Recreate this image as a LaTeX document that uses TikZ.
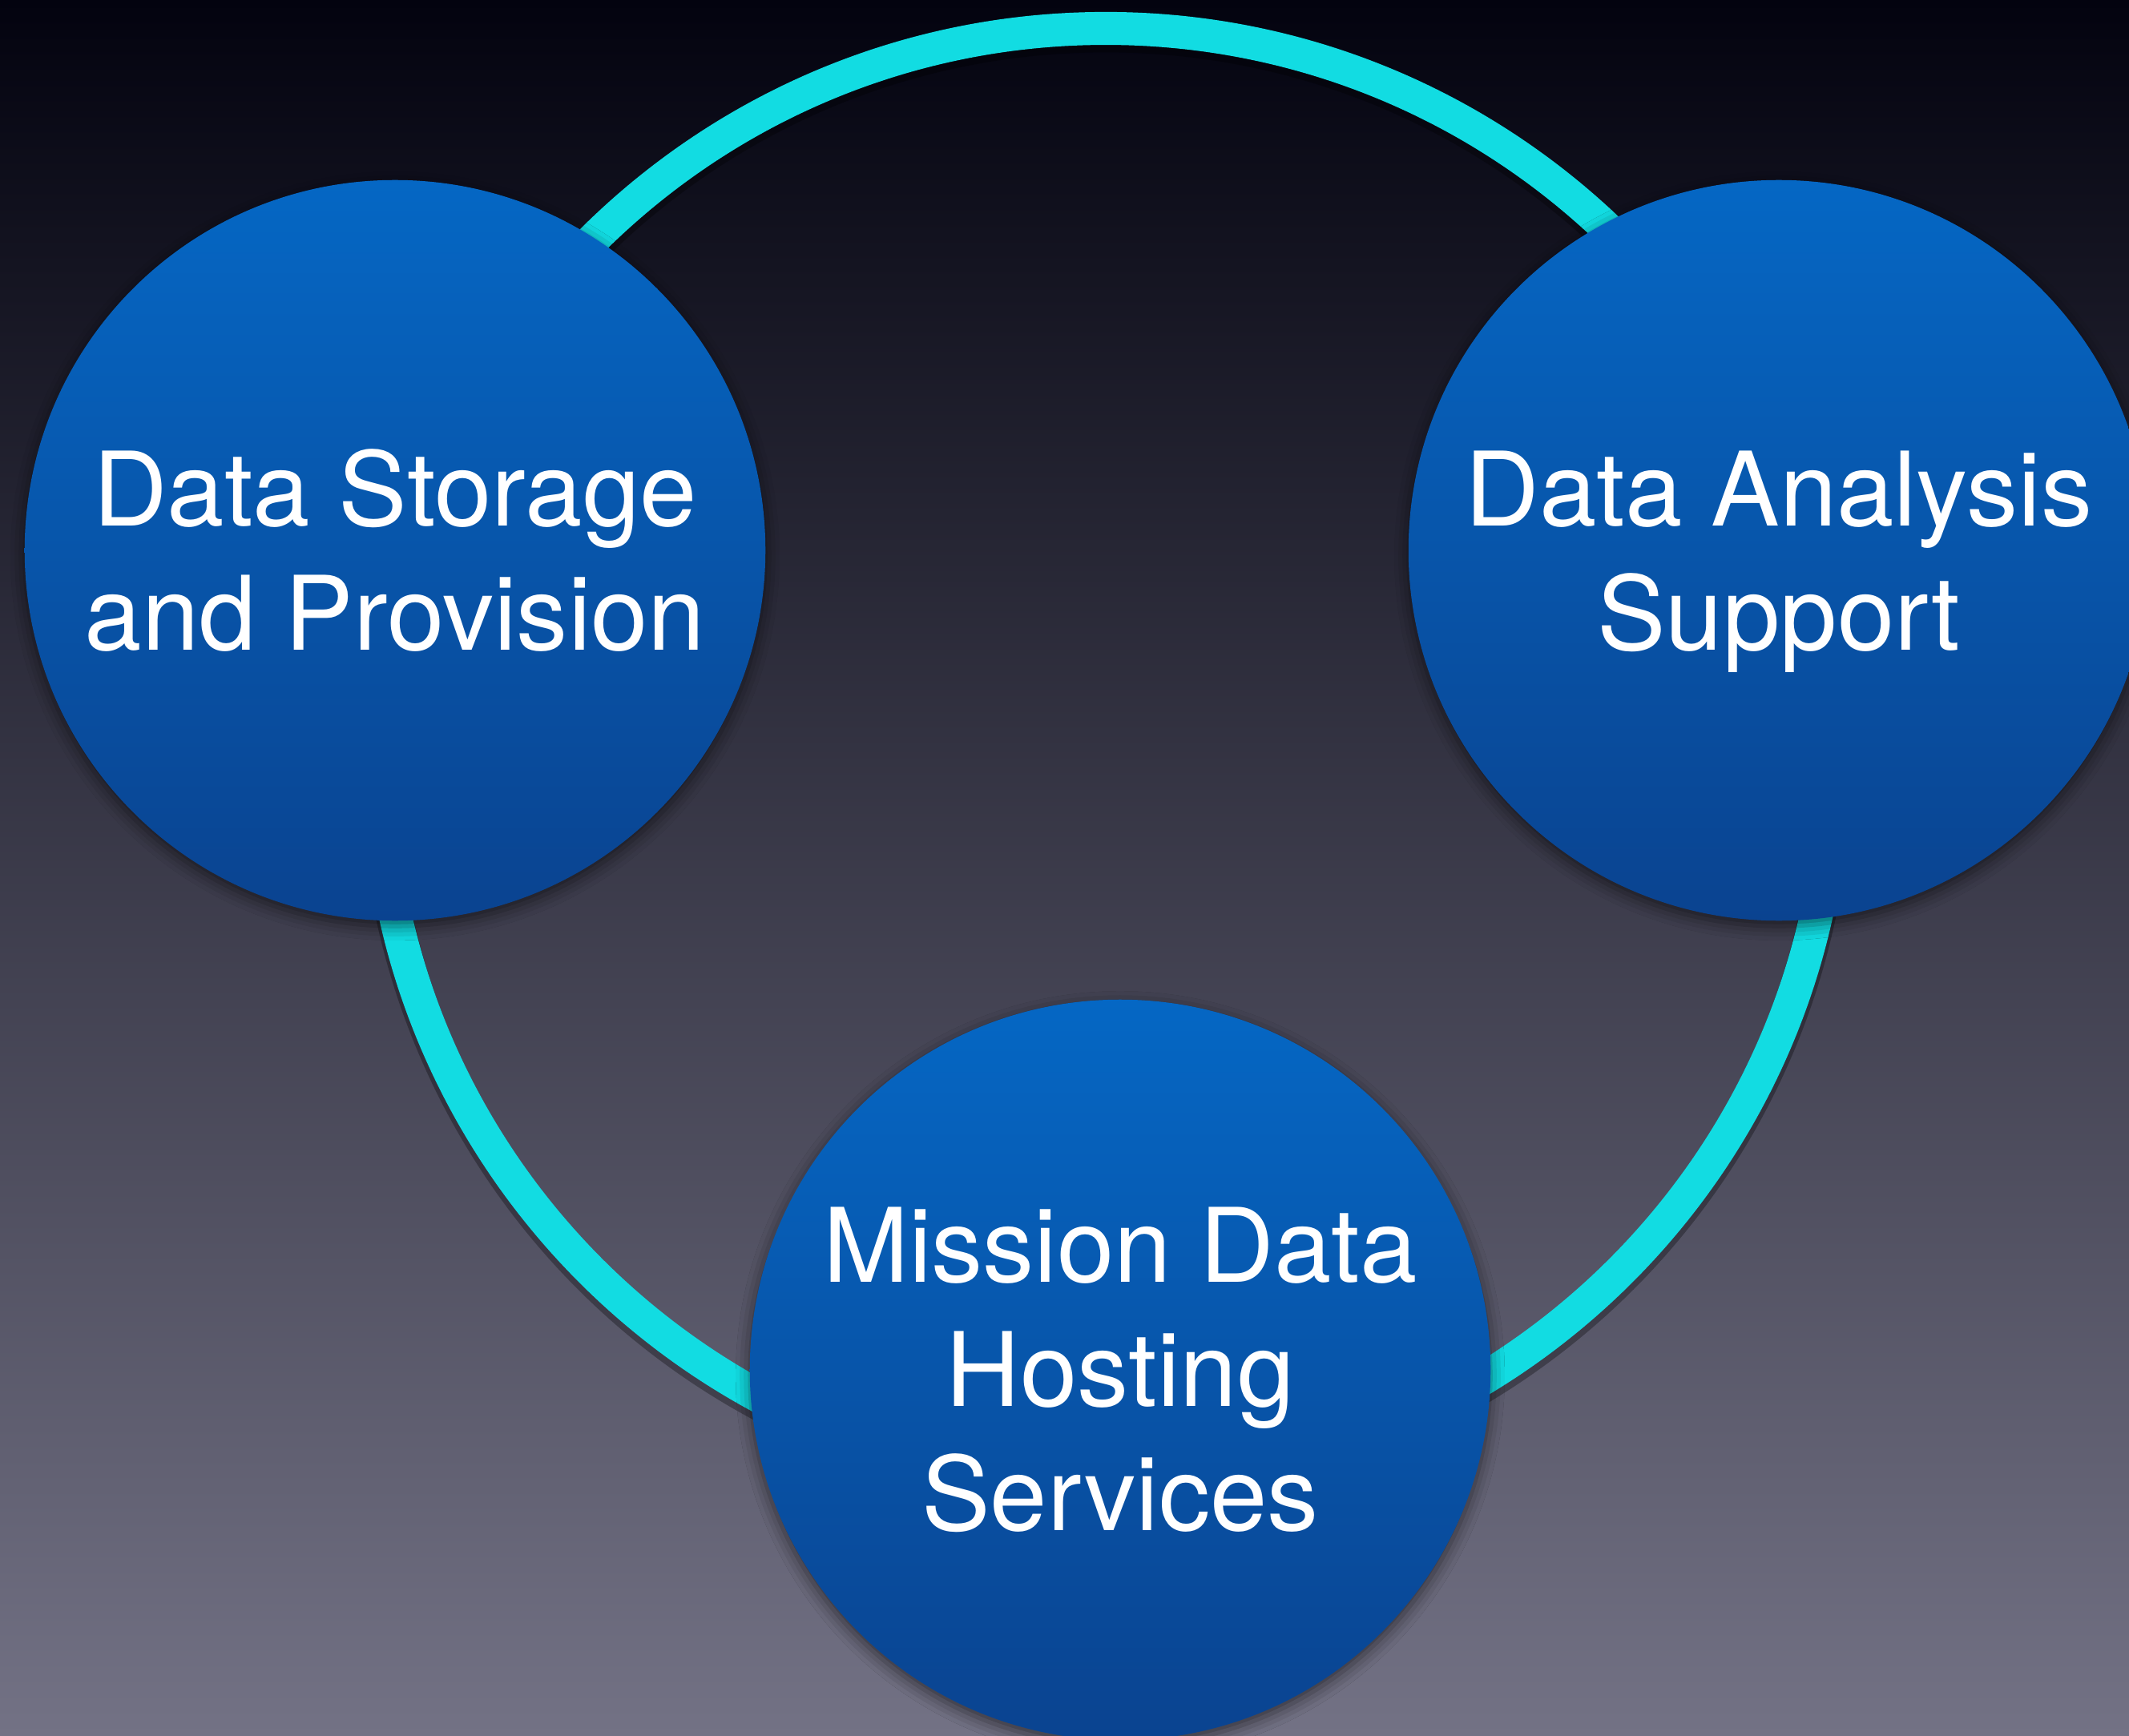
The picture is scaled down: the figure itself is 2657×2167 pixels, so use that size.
\documentclass[tikz,border=0pt]{standalone}
\usepackage{fontspec}
\setmainfont{TeX Gyre Heros}
\usetikzlibrary{shadows.blur}

\definecolor{bgtop}{HTML}{03030F}
\definecolor{bgmid}{HTML}{3A384F}
\definecolor{bgbot}{HTML}{737285}
\definecolor{ringcyan}{HTML}{12DCE2}
\definecolor{blobtop}{HTML}{0567C4}
\definecolor{blobbot}{HTML}{0A4390}

\begin{document}
\begin{tikzpicture}[x=0.01cm, y=-0.01cm,
  topic/.style={circle, minimum size=9.24cm, inner sep=0pt,
    top color=blobtop, bottom color=blobbot, text=white, align=center,
    font=\fontsize{36.5}{44}\selectfont,
    blur shadow={shadow xshift=0pt, shadow yshift=-2pt,
      shadow blur radius=5pt, shadow opacity=55}},
  ringline/.style={draw=ringcyan, line width=11.7pt},
  ringshade/.style={draw=black, line width=13pt, opacity=.3}]

  %% ---- background ----
  \useasboundingbox (0,0) rectangle (2657,2167);
  \shade[top color=bgtop, middle color=bgmid, bottom color=bgbot]
    (0,0) rectangle (2657,2167);

  %% ring behind the circles
  \coordinate (hub) at (1380,944);
  \draw[ringshade] ([yshift=-2pt]hub) circle[radius=9.08cm];
  \draw[ringline] (hub) circle[radius=9.08cm];

  %% ---- the three circles ----
  \node[topic] (storage) at (493,687) {Data Storage\\and Provision};
  \node[topic] (analysis) at (2220,687)
    {Data Analysis\\\raisebox{0pt}[\height][0pt]{Support}};
  \node[topic] (hosting) at (1398,1710) {Mission Data\\Hosting\\Services};

\end{tikzpicture}
\end{document}
